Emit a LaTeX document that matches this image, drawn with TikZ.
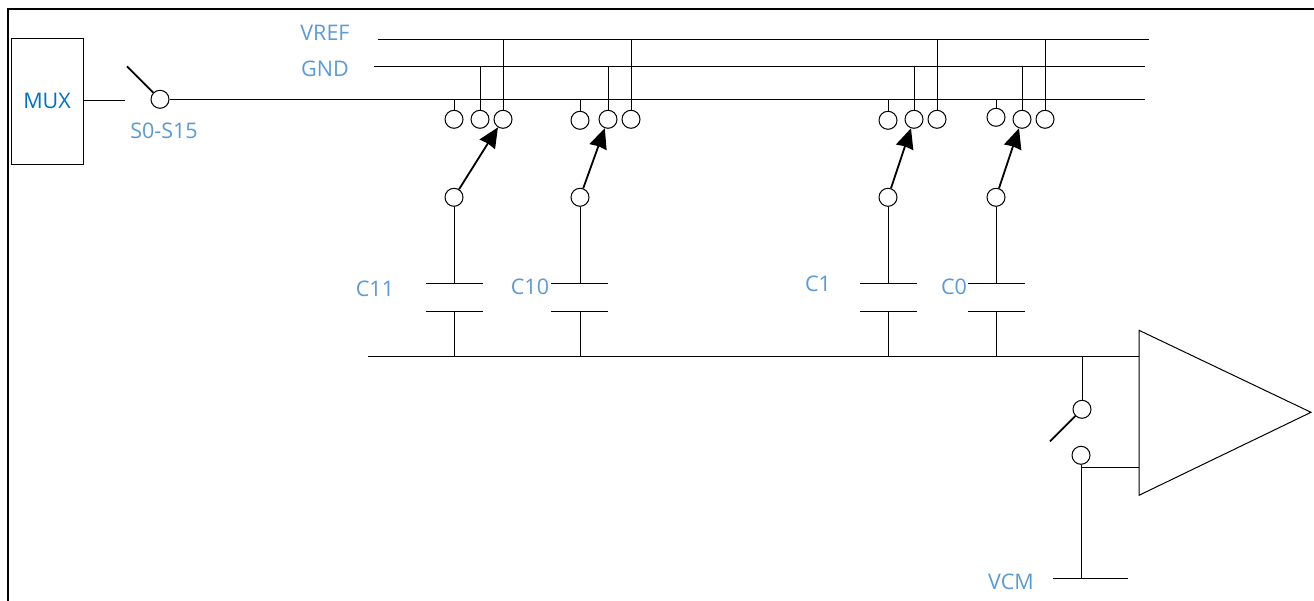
\documentclass[tikz,border=0pt]{standalone}
\usepackage{fontspec}
\setmainfont{Open Sans}
\usetikzlibrary{arrows.meta}
\definecolor{labelblue}{HTML}{5B9BD5}
\definecolor{muxblue}{HTML}{0070C0}
\tikzset{
    contact/.style={circle, draw, minimum size=18pt, inner sep=0pt},
    wire/.style={line width=1pt},
    lever/.style={line width=1.8pt},
    pointer/.style={line width=1.8pt, -{Stealth[length=20pt, width=18pt, inset=1pt]}},
    tag/.style={text=labelblue, font=\fontsize{21.5}{22}\selectfont, inner sep=0pt},
}
\begin{document}
\begin{tikzpicture}[x=1pt, y=-1pt, wire]
    \useasboundingbox (0,-0.3) rectangle (1314,600.7);
    \coordinate (frameb) at (8,601);
    \coordinate (framec) at (8,9);
    \coordinate (framee) at (1315,9);
    \draw [line width=2.2pt] (frameb) -- (framec) -- (framee);

    % buses
    \coordinate (vrefa) at (378,39);
    \coordinate (vrefb) at (1149,39);
    \coordinate (gnda) at (374,66);
    \coordinate (gndb) at (1145,66);
    \coordinate (sigb) at (1145,99);
    \coordinate (basea) at (368,356);
    \coordinate (baseb) at (1139,356);
    \draw (vrefa) -- (vrefb);
    \draw (gnda) -- (gndb);
    \draw (basea) -- (baseb);

    % mux and its switch
    \node [draw, minimum width=72pt, minimum height=126pt, inner sep=0pt, text=muxblue,
        font=\fontsize{21.5}{22}\selectfont] (mux) at (47,101) {MUX};
    \node [contact] (muxon) at (160,99) {};
    \coordinate (muxgap) at (125,100);
    \coordinate (muxlever) at (127,66);
    \draw (mux.east |- muxgap) -- (muxgap);
    \draw [lever] (muxlever) -- (muxon);
    \draw (muxon) -- (sigb);

    % C11
    \node [contact] (a) at (454,119) {};
    \node [contact] (b) at (480,119) {};
    \node [contact] (c) at (503,119) {};
    \node [contact] (d) at (454,197) {};
    \draw (a) -- (a |- sigb);
    \draw (b) -- (b |- gndb);
    \draw (c) -- (c |- vrefb);
    \draw [pointer] (d) -- (c);
    \coordinate (dtop) at (454,283);
    \coordinate (dbot) at (454,311);
    \draw (d) -- (dtop);
    \draw (dbot) -- (dbot |- baseb);
    \draw (426,283) -- (483,283);
    \draw (426,311) -- (483,311);

    % C10
    \node [contact] (e) at (580,120) {};
    \node [contact] (f) at (608,119) {};
    \node [contact] (g) at (631,119) {};
    \node [contact] (h) at (580,197) {};
    \draw (e) -- (e |- sigb);
    \draw (f) -- (f |- gndb);
    \draw (g) -- (g |- vrefb);
    \draw [pointer] (h) -- (f);
    \coordinate (htop) at (580,283);
    \coordinate (hbot) at (580,311);
    \draw (h) -- (htop);
    \draw (hbot) -- (hbot |- baseb);
    \draw (551,283) -- (608,283);
    \draw (551,311) -- (608,311);

    % C1
    \node [contact] (i) at (888,120) {};
    \node [contact] (j) at (914,119) {};
    \node [contact] (k) at (937,119) {};
    \node [contact] (l) at (888,197) {};
    \draw (i) -- (i |- sigb);
    \draw (j) -- (j |- gndb);
    \draw (k) -- (k |- vrefb);
    \draw [pointer] (l) -- (j);
    \coordinate (ltop) at (888,283);
    \coordinate (lbot) at (888,311);
    \draw (l) -- (ltop);
    \draw (lbot) -- (lbot |- baseb);
    \draw (860,283) -- (917,283);
    \draw (860,311) -- (917,311);

    % C0
    \node [contact] (m) at (996,117) {};
    \node [contact] (n) at (1022,119) {};
    \node [contact] (o) at (1045,119) {};
    \node [contact] (p) at (996,197) {};
    \draw (m) -- (m |- sigb);
    \draw (n) -- (n |- gndb);
    \draw (o) -- (o |- vrefb);
    \draw [pointer] (p) -- (n);
    \coordinate (ptop) at (996,283);
    \coordinate (pbot) at (996,311);
    \draw (p) -- (ptop);
    \draw (pbot) -- (pbot |- baseb);
    \draw (968,283) -- (1025,283);
    \draw (968,311) -- (1025,311);

    % amplifier
    \coordinate (ampa) at (1139,330);
    \coordinate (ampb) at (1311,412);
    \coordinate (ampc) at (1139,495);
    \draw (ampa) -- (ampb) -- (ampc) -- cycle;
    \node [contact] (q) at (1082,409) {};
    \node [contact] (r) at (1081,455) {};
    \coordinate (qtop) at (1082,356);
    \coordinate (qlever) at (1050,441);
    \coordinate (rjoin) at (1081,467);
    \coordinate (amplink) at (1139,467);
    \coordinate (vcmjoin) at (1081,578);
    \coordinate (vcma) at (1053,578);
    \coordinate (vcmb) at (1128,578);
    \draw (qtop) -- (q);
    \draw [lever] (qlever) -- (q);
    \draw (r) -- (vcmjoin);
    \draw (rjoin) -- (amplink);
    \draw (vcma) -- (vcmb);

    % labels
    \node [tag] (vreftag) at (325,33) {VREF};
    \node [tag] (gndtag) at (325,69) {GND};
    \node [tag] (swtag) at (164,131) {S0-S15};
    \node [tag] (c11tag) at (375,289) {C11};
    \node [tag] (c10tag) at (530,287) {C10};
    \node [tag] (c1tag) at (818,284) {C1};
    \node [tag] (c0tag) at (954,287) {C0};
    \node [tag] (vcmtag) at (1011,582) {VCM};
\end{tikzpicture}
\end{document}
